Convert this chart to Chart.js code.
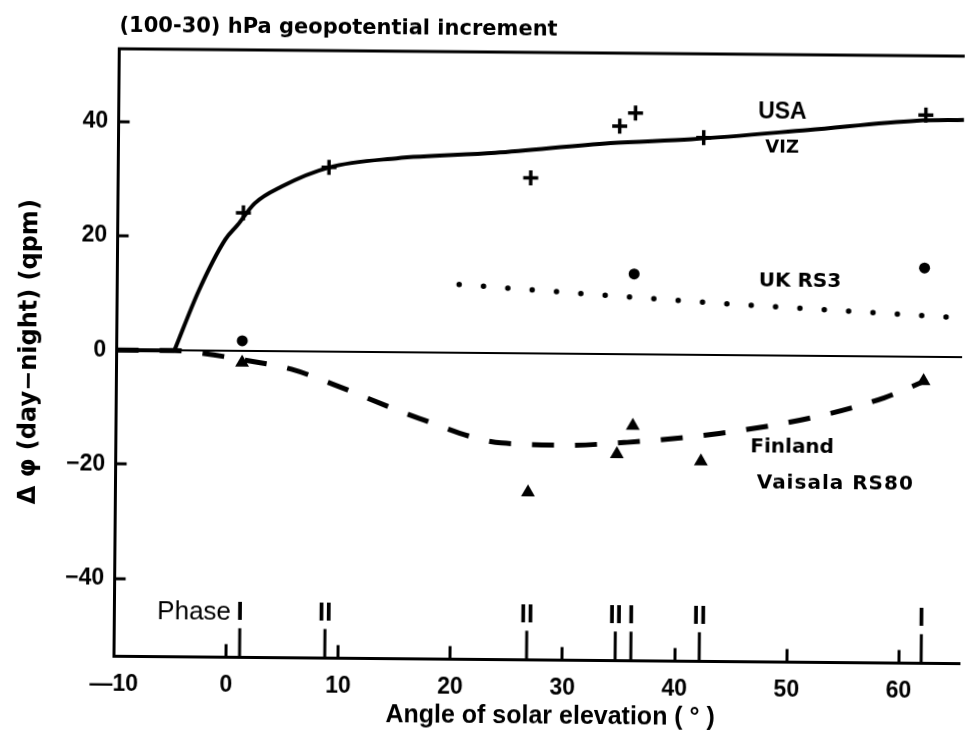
<!DOCTYPE html>
<html>
<head>
<meta charset="utf-8">
<title>(100-30) hPa geopotential increment</title>
<script src="https://cdn.jsdelivr.net/npm/chart.js@4/dist/chart.umd.min.js"></script>
<style>
  html, body { margin: 0; padding: 0; background: #fff; overflow: hidden; }
  #wrap { width: 973px; height: 738px; }
  /* the scanned figure is very slightly skewed */
  #chart { transform: rotate(0.5deg); background: #fff; }
</style>
</head>
<body>
<div id="wrap"><canvas id="chart" width="973" height="738"></canvas></div>
<script>
// solar elevation of each sounding (deg) and its phase
const obsAngles = [1.2, 8.8, 26.8, 34.7, 36.1, 42.2, 62.0];
const phaseLabels = ["I", "II", "II", "II", "I", "II", "I"];

// day-night differences (gpm)
const usaPoints = [24.2, 32.3, 30.8, 40.0, 42.3, 38.1, 42.4];
const ukAngles = [1.2, 36.1, 62.0];
const ukPoints = [1.8, 14.1, 15.6];
const finAngles = [1.2, 26.8, 34.7, 36.1, 42.2, 62.0];
const finPoints = [-2.0, -24.3, -17.5, -12.5, -18.6, -4.2];

// hand drawn curves
const usaCurveX = [-10, -4.85, -2.7, -0.4, 0.7, 2.2, 4.6, 8.8, 14.8, 23.6, 33.9, 41.1, 51.5, 61.2, 65.4];
const usaCurveY = [0, 0, 10.6, 19.5, 22.1, 25.9, 28.9, 32.3, 34.0, 35.1, 37.0, 37.8, 39.6, 41.4, 41.6];
const ukCurveX = [20.5, 42, 65.4];
const ukCurveY = [12.0, 9.3, 6.9];
const finCurveX = [-10, -4.9, -2.2, 1.2, 5.6, 9.5, 17.0, 24.4, 30, 35.6, 43.8, 52.5, 58.5, 62];
const finCurveY = [0, 0, -0.5, -1.5, -3.1, -5.8, -11.5, -15.7, -16.0, -15.4, -13.7, -10.6, -7.2, -4.3];

const xTicks = [-10, 0, 10, 20, 30, 40, 50, 60];
const yTicks = [-40, -20, 0, 20, 40];

function pts(xs, ys) {
    return xs.map(function (x, i) { return { x: x, y: ys[i] }; });
}

const notes = [
    { text: "USA", x: 49.2, y: 42.6, font: 'bold 23px "Liberation Sans", Arial, sans-serif', align: "center" },
    { text: "VIZ", x: 49.2, y: 36.4, font: 'bold 18px "DejaVu Sans", sans-serif', align: "center" },
    { text: "UK RS3", x: 50.9, y: 13.0, font: 'bold 20px "DejaVu Sans", sans-serif', align: "center" },
    { text: "Finland", x: 46.6, y: -16.1, font: 'bold 20px "DejaVu Sans", sans-serif', align: "left" },
    { text: "Vaisala RS80", x: 47.2, y: -22.3, font: 'bold 20px "DejaVu Sans", sans-serif', align: "left", spacing: "1px" },
];

// frame top, phase marks along the x axis and the curve names
const sondeExtras = {
    id: "sondeExtras",
    afterDatasetsDraw(chart) {
        const ctx = chart.ctx;
        const area = chart.chartArea;
        const xs = chart.scales.x;
        const ys = chart.scales.y;
        ctx.save();
        ctx.strokeStyle = "#000";
        ctx.fillStyle = "#000";
        ctx.lineWidth = 3;
        ctx.beginPath();
        ctx.moveTo(area.left - 1.5, area.top);
        ctx.lineTo(area.right, area.top);
        ctx.stroke();

        ctx.font = 'bold 26px "Liberation Sans", Arial, sans-serif';
        ctx.textAlign = "center";
        ctx.textBaseline = "alphabetic";
        obsAngles.forEach(function (a, i) {
            const px = xs.getPixelForValue(a);
            ctx.beginPath();
            ctx.moveTo(px, area.bottom);
            ctx.lineTo(px, area.bottom - 29);
            ctx.stroke();
            ctx.fillText(phaseLabels[i], px, area.bottom - 37);
        });
        ctx.font = '26px "Liberation Sans", Arial, sans-serif';
        ctx.textAlign = "right";
        ctx.fillText("Phase", xs.getPixelForValue(obsAngles[0]) - 9, area.bottom - 37);

        ctx.textBaseline = "middle";
        notes.forEach(function (n) {
            ctx.font = n.font;
            ctx.textAlign = n.align;
            ctx.letterSpacing = n.spacing || "0px";
            ctx.fillText(n.text, xs.getPixelForValue(n.x), ys.getPixelForValue(n.y));
        });
        ctx.restore();
    },
};

const tickFont = { family: '"Liberation Sans", Arial, sans-serif', size: 23, weight: "bold" };

var ctx = document.getElementById("chart").getContext("2d");
var myChart = new Chart(ctx, {
    type: "scatter",
    data: {
        datasets: [
            {
                label: "USA base",
                data: pts(usaCurveX.slice(0, 2), usaCurveY.slice(0, 2)),
                showLine: true,
                borderColor: "#000",
                borderWidth: 4,
                pointRadius: 0,
            },
            {
                label: "USA VIZ curve",
                data: pts(usaCurveX.slice(1), usaCurveY.slice(1)),
                showLine: true,
                cubicInterpolationMode: "monotone",
                borderColor: "#000",
                borderWidth: 4,
                pointRadius: 0,
            },
            {
                label: "USA VIZ",
                data: pts(obsAngles, usaPoints),
                pointStyle: "cross",
                pointRadius: 7.5,
                borderColor: "#000",
                borderWidth: 3.5,
            },
            {
                label: "UK RS3 curve",
                data: pts(ukCurveX, ukCurveY),
                showLine: true,
                cubicInterpolationMode: "monotone",
                borderColor: "#000",
                borderWidth: 5.5,
                borderDash: [0, 24.4],
                borderCapStyle: "round",
                pointRadius: 0,
            },
            {
                label: "UK RS3",
                data: pts(ukAngles, ukPoints),
                pointStyle: "circle",
                pointRadius: 5.5,
                backgroundColor: "#000",
                borderColor: "#000",
                borderWidth: 0,
            },
            {
                label: "Finland curve",
                data: pts(finCurveX, finCurveY),
                showLine: true,
                cubicInterpolationMode: "monotone",
                borderColor: "#000",
                borderWidth: 5,
                borderDash: [22, 21],
                pointRadius: 0,
            },
            {
                label: "Finland Vaisala RS80",
                data: pts(finAngles, finPoints),
                pointStyle: "triangle",
                pointRadius: 8,
                backgroundColor: "#000",
                borderColor: "#000",
                borderWidth: 0,
            },
        ],
    },
    options: {
        responsive: false,
        devicePixelRatio: 1,
        animation: false,
        layout: { padding: 0 },
        plugins: {
            legend: { display: false },
            tooltip: { enabled: false },
            title: {
                display: true,
                text: "(100-30) hPa geopotential increment",
                align: "start",
                fullSize: false,
                color: "#000",
                font: { family: '"DejaVu Sans", sans-serif', size: 21, weight: "bold" },
                padding: { top: 16.5, bottom: 10.3 },
            },
        },
        scales: {
            x: {
                type: "linear",
                position: "bottom",
                min: -10,
                max: 65.42,
                afterBuildTicks: function (s) {
                    s.ticks = xTicks.map(function (v) { return { value: v }; });
                },
                afterFit: function (s) { s.height = 78.6; },
                border: { display: true, color: "#000", width: 3 },
                grid: { drawOnChartArea: false, tickLength: -13, tickWidth: 3, tickColor: "#000" },
                ticks: {
                    color: "#000",
                    font: tickFont,
                    padding: 27,
                    maxRotation: 0,
                    autoSkip: false,
                    callback: function (v) { return v < 0 ? "\u2014" + Math.abs(v) : String(v); },
                },
                title: {
                    display: true,
                    text: "    Angle of solar elevation ( \u00b0 )",
                    color: "#000",
                    font: { family: '"Liberation Sans", Arial, sans-serif', size: 25, weight: "bold" },
                    padding: { top: 0, bottom: 7 },
                },
            },
            y: {
                type: "linear",
                min: -53.64,
                max: 52.77,
                afterBuildTicks: function (s) {
                    s.ticks = yTicks.map(function (v) { return { value: v }; });
                },
                afterFit: function (s) { s.width = 116.5; },
                border: { display: true, color: "#000", width: 3 },
                grid: {
                    color: function (c) { return c.tick && c.tick.value === 0 ? "#000" : "rgba(0,0,0,0)"; },
                    lineWidth: 2,
                    tickLength: -11,
                    tickWidth: 3,
                    tickColor: "#000",
                },
                ticks: {
                    color: "#000",
                    font: tickFont,
                    padding: 21.5,
                    autoSkip: false,
                    callback: function (v) { return v < 0 ? "\u2212" + Math.abs(v) : String(v); },
                },
                title: {
                    display: true,
                    text: "\u0394 \u03c6 (day\u2212night) (qpm)",
                    color: "#000",
                    font: { family: '"DejaVu Sans", sans-serif', size: 24, weight: "bold" },
                    padding: { top: 15.6, bottom: 0 },
                },
            },
        },
    },
    plugins: [sondeExtras],
});
</script>
</body>
</html>
